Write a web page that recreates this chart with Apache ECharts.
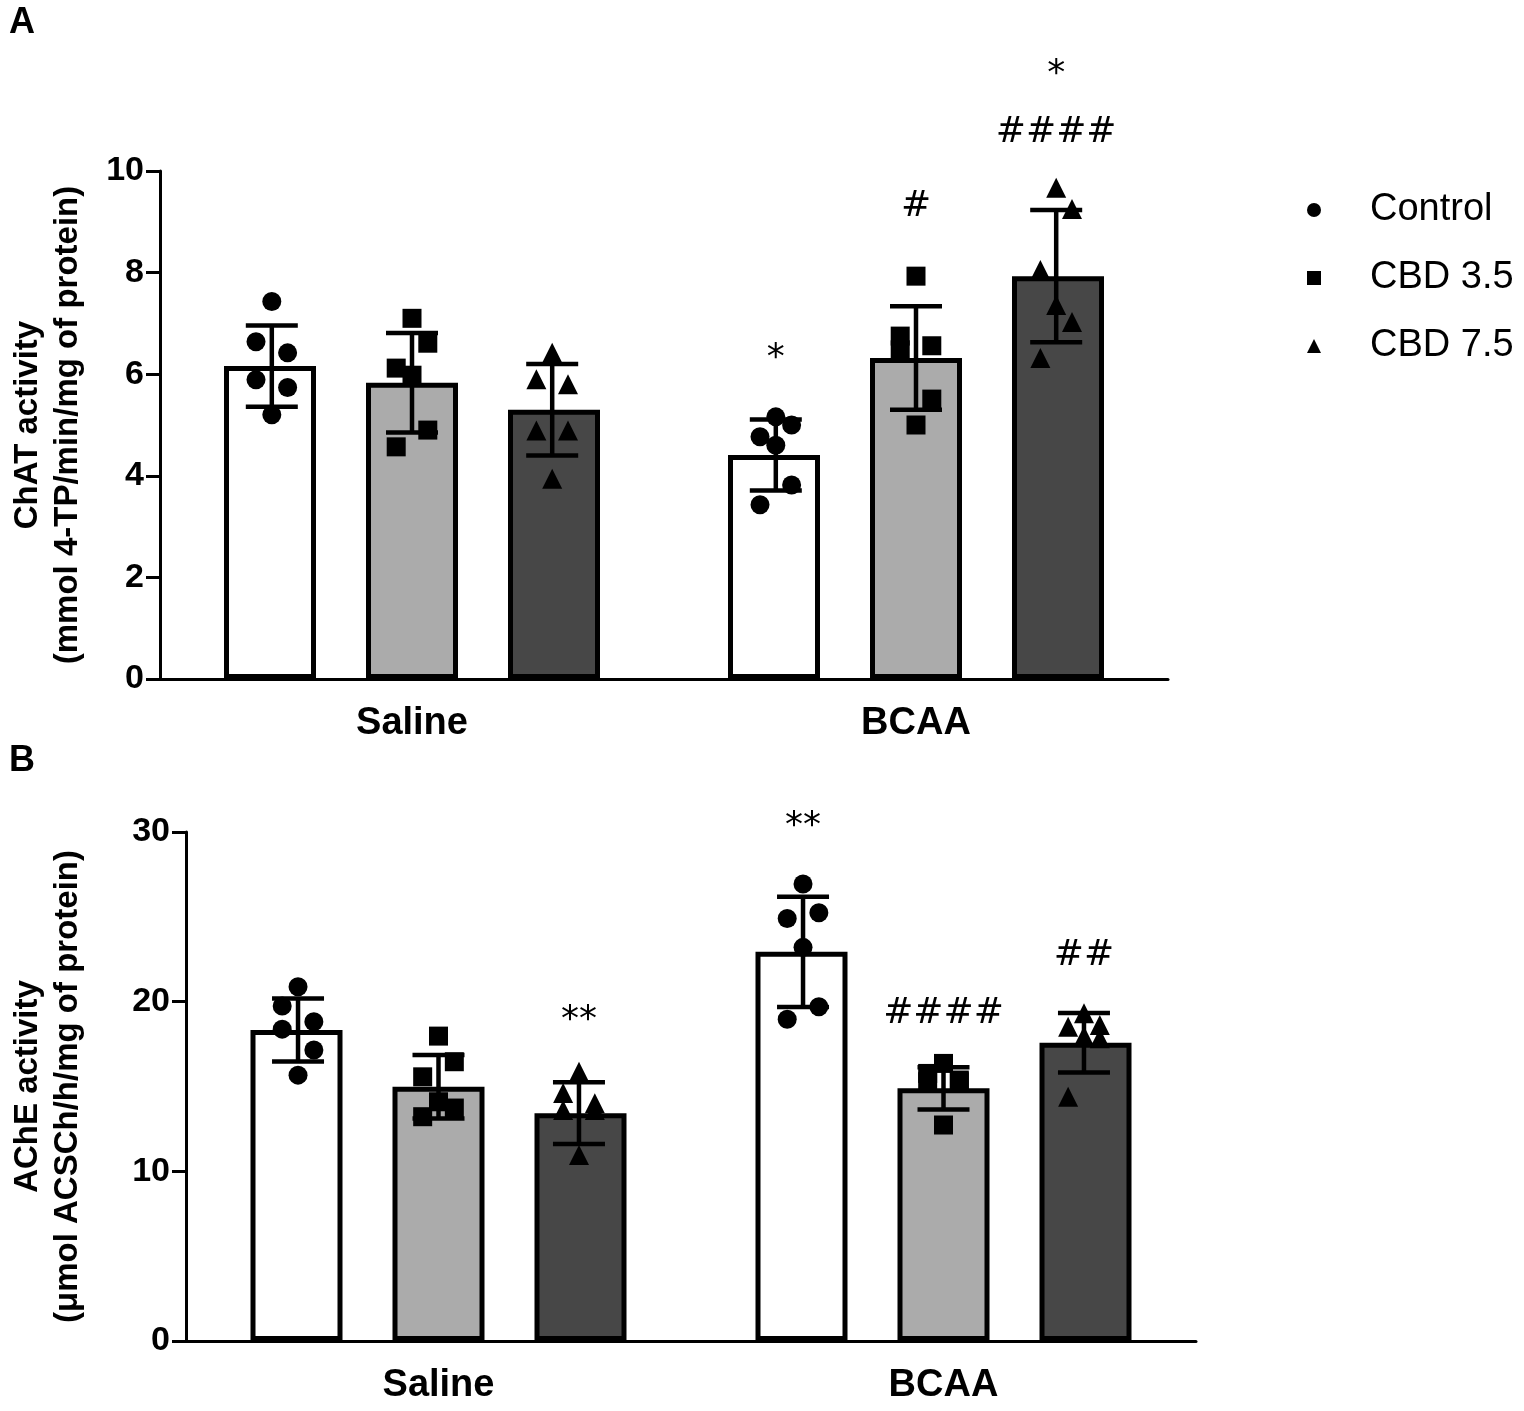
<!DOCTYPE html>
<html><head><meta charset="utf-8">
<script src="https://cdn.jsdelivr.net/npm/echarts@6/dist/echarts.min.js"></script>
<style>html,body{margin:0;background:#fff}#c{width:1524px;height:1411px}</style>
</head><body><div id="c"></div>
<script>
var categories = ['Saline', 'BCAA'];
var groups = ['Control', 'CBD 3.5', 'CBD 7.5'];

// Panel A: ChAT  [saline, bcaa]
var chatMean = [[6.16, 4.41], [5.83, 6.32], [5.30, 7.93]];
var chatSd = [[0.80, 0.70], [0.98, 1.02], [0.90, 1.30]];
var chatPoints = [
	[[7.43, 6.64, 6.42, 5.89, 5.74, 5.20], [5.16, 5.00, 4.77, 4.60, 3.82, 3.43]],
	[[7.10, 6.61, 6.12, 5.98, 4.90, 4.57], [7.93, 6.75, 6.56, 6.48, 5.51, 5.00]],
	[[6.42, 5.90, 5.80, 4.89, 4.89, 3.94], [9.67, 9.25, 8.05, 7.36, 7.03, 6.32]]
];
var chatMarks = [[1, 0, 6.3, '*'], [1, 1, 9.3, '#'], [1, 2, 10.75, '####'], [1, 2, 11.9, '*']];

// Panel B: AChE
var acheMean = [[18.33, 22.94], [14.99, 14.89], [13.43, 17.58]];
var acheSd = [[1.85, 3.25], [1.87, 1.25], [1.82, 1.75]];
var achePoints = [
	[[20.88, 19.74, 18.82, 18.38, 17.15, 15.67], [26.93, 25.24, 24.90, 23.20, 19.70, 18.96]],
	[[17.97, 16.46, 15.57, 14.10, 13.73, 13.22], [16.36, 15.77, 15.38, 15.28, 15.28, 12.73]],
	[[15.87, 14.61, 14.02, 13.61, 13.61, 10.96], [19.31, 18.62, 18.52, 17.97, 17.84, 14.40]]
];
var acheMarks = [[0, 2, 18.9, '**'], [1, 0, 30.3, '**'], [1, 1, 19.3, '####'], [1, 2, 22.7, '##']];

// horizontal jitter in px, per point
var jitter = [0, -16, 16, -16, 16, 0];
var jitterAlt = [0, 16, -16, 0, 16, -16];

var colors = ['#ffffff', '#ababab', '#474747'];
var symbols = ['circle', 'rect', 'triangle'];
var barW = 92, barGapPx = 50;
var fontF = 'Liberation Sans, Arial, sans-serif';

function build(gi, g, mean, sd, points, marks, yMax, yInt, yName) {
	var plotW = 1524 - g.left - g.right;
	var catW = plotW / 2;
	var step = (barW + barGapPx) / catW;
	function xOf(c, k, px) { return c + 0.5 + (k - 1) * step + (px || 0) / catW; }
	var series = [];
	groups.forEach(function (name, k) {
		series.push({
			type: 'bar', xAxisIndex: gi * 2, yAxisIndex: gi, barWidth: barW, barGap: (barGapPx / barW * 100) + '%',
			data: mean[k], itemStyle: { color: colors[k], borderColor: '#000', borderWidth: 5 }, z: 2
		});
	});
	groups.forEach(function (name, k) {
		var d = [];
		for (var c = 0; c < 2; c++) {
			points[k][c].forEach(function (v, i) {
				d.push([xOf(c, k, (c + k) % 2 ? jitterAlt[i] : jitter[i]), v]);
			});
		}
		series.push({
			name: name, type: 'scatter', xAxisIndex: gi * 2 + 1, yAxisIndex: gi, data: d,
			symbol: symbols[k], symbolSize: k === 2 ? 20 : 19, itemStyle: { color: '#000', opacity: 1 }, z: 4, clip: false
		});
	});
	var eb = [];
	groups.forEach(function (name, k) {
		for (var c = 0; c < 2; c++) eb.push([xOf(c, k), mean[k][c], sd[k][c]]);
	});
	series.push({
		type: 'custom', xAxisIndex: gi * 2 + 1, yAxisIndex: gi, data: eb, z: 5, clip: false,
		renderItem: function (params, api) {
			var x = api.value(0), m = api.value(1), s = api.value(2);
			var top = api.coord([x, m + s]), bot = api.coord([x, m - s]);
			var st = { stroke: '#000', lineWidth: 4.5 };
			return {
				type: 'group', children: [
					{ type: 'line', shape: { x1: top[0], y1: top[1], x2: bot[0], y2: bot[1] }, style: st },
					{ type: 'line', shape: { x1: top[0] - 26, y1: top[1], x2: top[0] + 26, y2: top[1] }, style: st },
					{ type: 'line', shape: { x1: bot[0] - 26, y1: bot[1], x2: bot[0] + 26, y2: bot[1] }, style: st }
				]
			};
		}
	});
	series.push({
		type: 'custom', xAxisIndex: gi * 2 + 1, yAxisIndex: gi, clip: false, z: 6,
		data: marks.map(function (m) { return [xOf(m[0], m[1]), m[2], m[3]]; }),
		renderItem: function (params, api) {
			var p = api.coord([api.value(0), api.value(1)]);
			return {
				type: 'text', x: p[0], y: p[1],
				style: {
					text: marks[params.dataIndex][3], x: 0, y: 0, align: 'center', verticalAlign: 'middle',
					fontSize: 36, fontFamily: 'DejaVu Sans', fill: '#000'
				}
			};
		}
	});
	var xAxes = [
		{
			type: 'category', gridIndex: gi, data: categories,
			axisLine: { lineStyle: { color: '#000', width: 3 } },
			axisTick: { alignWithLabel: true, length: 14, lineStyle: { width: 3 } },
			axisLabel: { fontSize: 38, fontWeight: 'bold', color: '#000', fontFamily: fontF, margin: 26 }
		},
		{ type: 'value', gridIndex: gi, min: 0, max: 2, show: false }
	];
	var yAxis = {
		type: 'value', gridIndex: gi, min: 0, max: yMax, interval: yInt,
		name: yName, nameLocation: 'middle', nameGap: gi === 0 ? 72 : 98, nameRotate: 90,
		nameTextStyle: { fontSize: 33, fontWeight: 'bold', color: '#000', fontFamily: fontF, lineHeight: 40 },
		axisLine: { show: true, lineStyle: { color: '#000', width: 3 } },
		axisTick: { show: true, length: 14, lineStyle: { width: 3 } },
		splitLine: { show: false },
		axisLabel: { fontSize: 34, fontWeight: 'bold', color: '#000', fontFamily: fontF, margin: 16 }
	};
	return { series: series, xAxes: xAxes, yAxis: yAxis };
}

var gridA = { left: 147, right: 356, top: 171, bottom: 732 };
var gridB = { left: 175, right: 328, top: 832, bottom: 70 };
var a = build(0, gridA, chatMean, chatSd, chatPoints, chatMarks, 10, 2, 'ChAT activity\n(mmol 4-TP/min/mg of protein)');
var b = build(1, gridB, acheMean, acheSd, achePoints, acheMarks, 30, 10, 'AChE activity\n(μmol ACSCh/h/mg of protein)');

var option = {
	backgroundColor: '#fff',
	animation: false,
	title: [
		{ text: 'A', left: 4, top: 0, textStyle: { fontSize: 36, fontWeight: 'bold', fontFamily: fontF, color: '#000' } },
		{ text: 'B', left: 4, top: 738, textStyle: { fontSize: 36, fontWeight: 'bold', fontFamily: fontF, color: '#000' } }
	],
	legend: {
		data: groups.map(function (n, k) { return { name: n, icon: symbols[k] }; }),
		orient: 'vertical', left: 1302, top: 186, itemGap: 30, itemWidth: 14, itemHeight: 14,
		textStyle: { fontSize: 38, color: '#000', fontFamily: fontF, padding: [0, 0, 0, 44] },
		itemStyle: { color: '#000' }
	},
	grid: [gridA, gridB],
	xAxis: a.xAxes.concat(b.xAxes),
	yAxis: [a.yAxis, b.yAxis],
	series: a.series.concat(b.series)
};
echarts.init(document.getElementById('c')).setOption(option);
</script></body></html>
